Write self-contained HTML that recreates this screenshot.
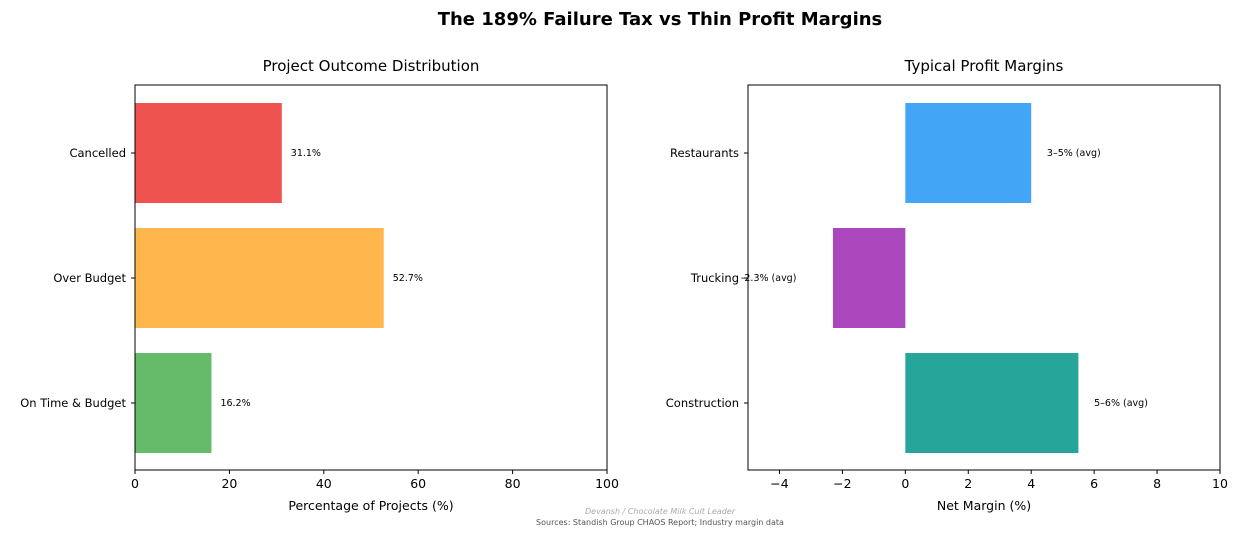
<!DOCTYPE html>
<html><head><meta charset="utf-8"><style>
body{margin:0;background:#fff;font-family:"DejaVu Sans","Liberation Sans",sans-serif;}
svg text{font-family:"DejaVu Sans","Liberation Sans",sans-serif;}
</style></head><body>
<svg id="c" width="1238" height="537" xmlns="http://www.w3.org/2000/svg">
<text x="660" y="25" text-anchor="middle" font-size="18" font-weight="bold">The 189% Failure Tax vs Thin Profit Margins</text>
<g id="left"></g>
<g id="right"></g>
<text x="660" y="514" text-anchor="middle" font-size="8" font-style="italic" fill="#aaa">Devansh / Chocolate Milk Cult Leader</text>
<text x="660" y="525" text-anchor="middle" font-size="8" fill="#555">Sources: Standish Group CHAOS Report; Industry margin data</text>
</svg>
<script>
const outcomeCats=["On Time & Budget","Over Budget","Cancelled"];
const outcomeVals=[16.2,52.7,31.1];
const outcomeColors=["#66bb6a","#ffb74d","#ef5350"];
const outcomeTicks=[0,20,40,60,80,100];
const marginCats=["Construction","Trucking","Restaurants"];
const marginVals=[5.5,-2.3,4];
const marginLabels=["5–6% (avg)","-2.3% (avg)","3–5% (avg)"];
const marginColors=["#26a69a","#ab47bc","#42a5f5"];
const marginTicks=[-4,-2,0,2,4,6,8,10];
const NS="http://www.w3.org/2000/svg";
function mk(p,t,a){const e=document.createElementNS(NS,t);for(const k in a)e.setAttribute(k,a[k]);p.appendChild(e);return e;}
function panel(g,L,xmin,xmax,cats,vals,colors,ticks,labels,title,xlabel){
 const T=85,B=470,R=L+472;
 const xs=v=>L+(v-xmin)/(xmax-xmin)*(R-L);
 const ys=i=>403-125*i;
 let t=mk(g,'text',{x:(L+R)/2,y:71,'text-anchor':'middle','font-size':15});t.textContent=title;
 
 
 cats.forEach((c,i)=>{
  const v=vals[i];const x0=xs(Math.min(0,v)),x1=xs(Math.max(0,v));
  const r=mk(g,'rect',{x:x0,y:ys(i)-50,width:x1-x0,height:100,fill:colors[i]});
  
  
  mk(g,'line',{x1:L-4,x2:L,y1:ys(i),y2:ys(i),stroke:'#000'});
  const cl=mk(g,'text',{x:L-9,y:ys(i)+4,'text-anchor':'end','font-size':11.5});cl.textContent=c;
  
  
  const lx=v>=0?xs(v)+(labels?xs(0.5)-xs(0):9):xs(v)-92;
  const vl=mk(g,'text',{x:lx,y:ys(i)+3,'font-size':9.5});vl.textContent=labels?labels[i]:v.toFixed(1)+'%';
  
  
 });
 ticks.forEach(v=>{
  mk(g,'line',{x1:xs(v),x2:xs(v),y1:B,y2:B+4,stroke:'#000'});
  const tl=mk(g,'text',{x:xs(v),y:B+18,'text-anchor':'middle','font-size':12.5});tl.textContent=v<0?'−'+(-v):v;
  
  
 });
 const fr=mk(g,'rect',{x:L,y:T,width:R-L,height:B-T,fill:'none',stroke:'#000','stroke-width':1});
 
 
 const xl=mk(g,'text',{x:(L+R)/2,y:510,'text-anchor':'middle','font-size':12.5});xl.textContent=xlabel;
 
 
}
panel(document.getElementById('left'),135,0,100,outcomeCats,outcomeVals,outcomeColors,outcomeTicks,null,'Project Outcome Distribution','Percentage of Projects (%)');
panel(document.getElementById('right'),748,-5,10,marginCats,marginVals,marginColors,marginTicks,marginLabels,'Typical Profit Margins','Net Margin (%)');
</script>
</body></html>
